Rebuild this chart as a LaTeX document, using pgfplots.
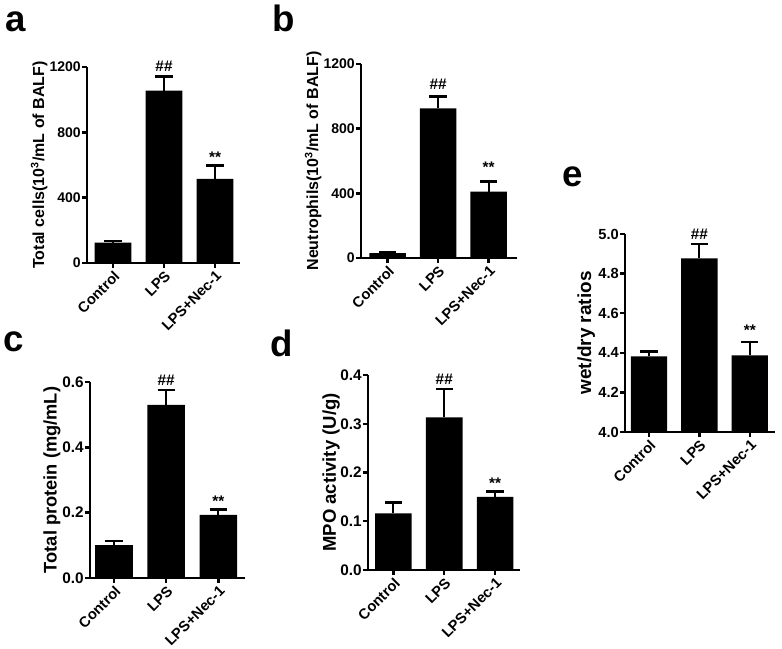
\documentclass[border=0pt]{standalone}
\usepackage{fontspec}
\setmainfont{Liberation Sans}
\usepackage{pgfplots}
\pgfplotsset{compat=1.18}
\newcommand{\fs}[1]{\fontsize{#1}{#1}\selectfont}
\tikzset{ann/.style={font=\bfseries\fs{11.5}}}
\pgfplotsset{
  gp/.style={
    scale only axis,
    anchor=south west,
    axis x line=bottom, axis y line=left,
    axis line style={-, line width=2pt, black},
    tick align=outside,
    major tick length=3.5pt,
    every tick/.style={line width=1.8pt, black},
    xtick={0,1,2},
    xticklabels={Control, LPS, LPS+Nec-1},
    x tick label style={rotate=45, anchor=north east, font=\bfseries\fs{11}, inner sep=1pt},
    y tick label style={font=\bfseries\fs{10.5}, inner sep=1pt},
    /pgf/number format/assume math mode=true,
    /pgf/number format/set thousands separator={},
    clip mode=individual,
    ybar, bar width=0.72,
  },
  dec/.style={/pgf/number format/fixed, /pgf/number format/fixed zerofill, /pgf/number format/precision=1},
  bars/.style={
    fill=black, draw=none,
    error bars/.cd, y dir=plus, y explicit,
    error mark=|,
    error bar style={line width=1.6pt, black},
    error mark options={mark size=6.5pt, line width=2pt, black},
  },
}
\begin{document}
\begin{tikzpicture}
\path[use as bounding box] (0,0) rectangle (586.5pt,486.75pt);
% panel letters
\node[anchor=base west, inner sep=0, font=\bfseries\fs{27.5}] at (3.75pt,462.75pt) {a};
\node[anchor=base west, inner sep=0, font=\bfseries\fs{27.5}] at (204pt,462.75pt) {b};
\node[anchor=base west, inner sep=0, font=\bfseries\fs{27.5}] at (2.25pt,222.75pt) {c};
\node[anchor=base west, inner sep=0, font=\bfseries\fs{27.5}] at (202.5pt,219pt) {d};
\node[anchor=base west, inner sep=0, font=\bfseries\fs{27.5}] at (421.5pt,346.5pt) {e};

% a
\begin{axis}[gp, at={(65.25pt,289.5pt)}, width=114.75pt, height=147pt,
  xmin=-0.51, xmax=2.49, ymin=0, ymax=1200, ytick={0,400,800,1200},
  ylabel={Total cells(10\textsuperscript{3}/mL of BALF)},
  ylabel shift=-3pt,
  ylabel style={font=\bfseries\fs{12}}]
\addplot[bars] table[x=x, y=y, y error=e] {
x y e
0 125 10
1 1055 85
2 515 80
};
\node[ann] at (axis cs:1,1205) {\#\#};
\node[ann] at (axis cs:2,650) {**};
\end{axis}

% b
\begin{axis}[gp, at={(270.75pt,293.25pt)}, width=117pt, height=145.5pt,
  xmin=-0.525, xmax=2.56, ymin=0, ymax=1200, ytick={0,400,800,1200},
  ylabel={Neutrophils(10\textsuperscript{3}/mL of BALF)},
  ylabel shift=-3pt,
  ylabel style={font=\bfseries\fs{12}}]
\addplot[bars] table[x=x, y=y, y error=e] {
x y e
0 30 4
1 926 72
2 410 62
};
\node[ann] at (axis cs:1,1075) {\#\#};
\node[ann] at (axis cs:2,560) {**};
\end{axis}

% c
\begin{axis}[gp, at={(67.5pt,53.25pt)}, width=116.25pt, height=147pt,
  xmin=-0.46, xmax=2.51, ymin=0, ymax=0.6, ytick={0,0.2,0.4,0.6},
  yticklabel style={dec},
  y tick label style={font=\bfseries\fs{11.5}},
  ylabel={Total protein (mg/mL)},
  ylabel shift=-3pt,
  ylabel style={font=\bfseries\fs{13.7}}]
\addplot[bars] table[x=x, y=y, y error=e] {
x y e
0 0.101 0.012
1 0.530 0.045
2 0.193 0.017
};
\node[ann] at (axis cs:1,0.606) {\#\#};
\node[ann] at (axis cs:2,0.234) {**};
\end{axis}

% d
\begin{axis}[gp, at={(276pt,59.25pt)}, width=114pt, height=146.25pt,
  xmin=-0.5, xmax=2.49, ymin=0, ymax=0.4, ytick={0,0.1,0.2,0.3,0.4},
  yticklabel style={dec},
  y tick label style={font=\bfseries\fs{11.5}},
  ylabel={MPO activity (U/g)},
  ylabel shift=-4pt,
  ylabel style={font=\bfseries\fs{13.9}}]
\addplot[bars] table[x=x, y=y, y error=e] {
x y e
0 0.116 0.022
1 0.313 0.058
2 0.150 0.011
};
\node[ann] at (axis cs:1,0.391) {\#\#};
\node[ann] at (axis cs:2,0.178) {**};
\end{axis}

% e
\begin{axis}[gp, at={(468.75pt,162.75pt)}, width=112.5pt, height=148.5pt,
  xmin=-0.475, xmax=2.5, ymin=4.0, ymax=5.0, ytick={4.0,4.2,4.4,4.6,4.8,5.0},
  yticklabel style={dec},
  y tick label style={font=\bfseries\fs{11}},
  ylabel={wet/dry ratios},
  ylabel shift=-2pt,
  ylabel style={font=\bfseries\fs{14.2}}]
\addplot[bars] table[x=x, y=y, y error=e] {
x y e
0 4.382 0.025
1 4.877 0.072
2 4.387 0.068
};
\node[ann] at (axis cs:1,5.0) {\#\#};
\node[ann] at (axis cs:2,4.515) {**};
\end{axis}
\end{tikzpicture}
\end{document}
